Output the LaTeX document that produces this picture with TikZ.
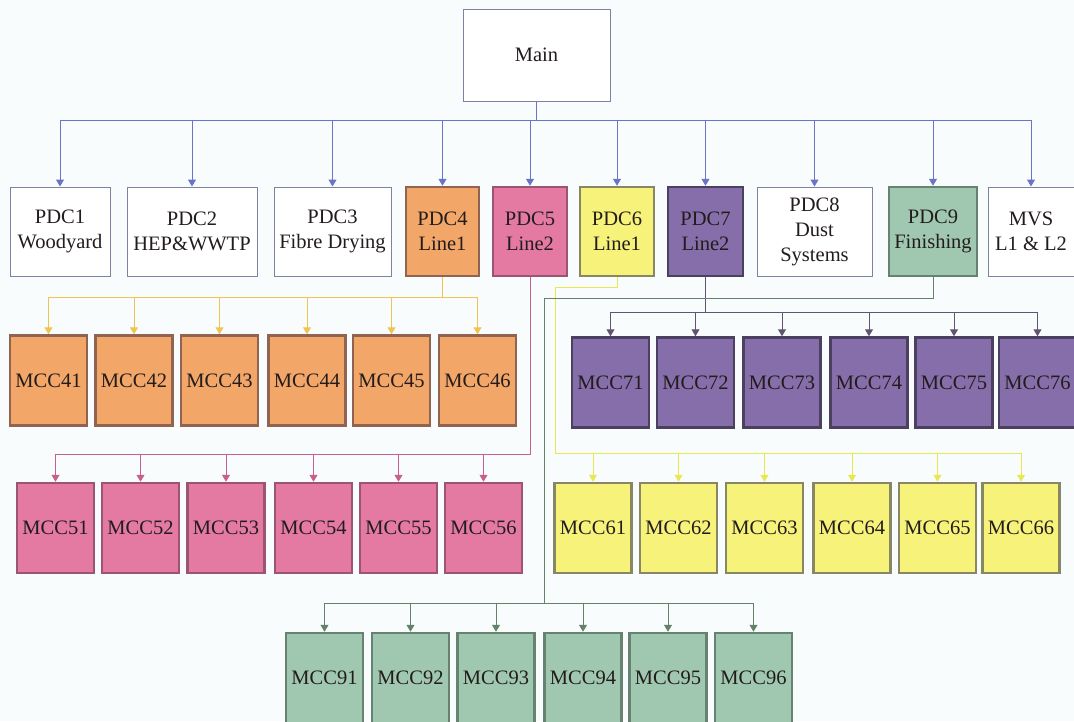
\documentclass[tikz,border=0pt]{standalone}
\usepackage{fontspec}
\setmainfont{Liberation Serif}
\usetikzlibrary{arrows.meta}
\definecolor{bg}{RGB}{248,252,252}
\definecolor{txt}{RGB}{35,28,28}
\definecolor{wbord}{RGB}{125,130,160}
\definecolor{busblue}{RGB}{105,115,200}
\definecolor{orfill}{RGB}{242,166,104}
\definecolor{orbord}{RGB}{145,100,82}
\definecolor{orline}{RGB}{240,196,80}
\definecolor{pkfill}{RGB}{228,122,162}
\definecolor{pkbord}{RGB}{155,85,115}
\definecolor{pkline}{RGB}{200,95,140}
\definecolor{ylfill}{RGB}{246,242,122}
\definecolor{ylbord}{RGB}{135,135,100}
\definecolor{ylline}{RGB}{232,232,80}
\definecolor{pufill}{RGB}{134,110,170}
\definecolor{pubord}{RGB}{75,64,95}
\definecolor{puline}{RGB}{98,84,112}
\definecolor{grfill}{RGB}{160,200,176}
\definecolor{grbord}{RGB}{104,130,114}
\definecolor{grline}{RGB}{100,130,105}

\begin{document}
\begin{tikzpicture}[x=1pt, y=-1pt, >={Triangle[length=7pt,width=8pt]},
    box/.style={draw=wbord, fill=white, line width=1pt, minimum height=89pt,
        inner sep=1pt, align=center, text=txt, font=\fontsize{20.5}{25}\selectfont},
    mcc/.style={box, minimum width=77pt, minimum height=90pt, line width=2.5pt},
    orbox/.style={mcc, fill=orfill, draw=orbord},
    pkbox/.style={mcc, fill=pkfill, draw=pkbord},
    ylbox/.style={mcc, fill=ylfill, draw=ylbord},
    pubox/.style={mcc, fill=pufill, draw=pubord},
    grbox/.style={mcc, fill=grfill, draw=grbord},
    wire/.style={line width=1pt}]
    \useasboundingbox (0,0) rectangle (1074,721);
    \fill[bg] (0,0) rectangle (1074,721);

    % Main and PDC boxes
    \node[box, minimum width=147pt, minimum height=92pt] (main) at (536.5,55) {Main};
    \node[box, minimum width=100pt] (pdc1) at (60,231.5) {PDC1\\Woodyard};
    \node[box, minimum width=130pt] (pdc2) at (192,231.5) {PDC2\\HEP\&WWTP};
    \node[box, minimum width=117pt] (pdc3) at (332.5,231.5) {PDC3\\Fibre Drying};
    \node[box, minimum width=73pt, line width=2.5pt, fill=orfill, draw=orbord] (pdc4) at (442.5,231.5) {PDC4\\Line1};
    \node[box, minimum width=74pt, line width=2.5pt, fill=pkfill, draw=pkbord] (pdc5) at (530,231.5) {PDC5\\Line2};
    \node[box, minimum width=74pt, line width=2.5pt, fill=ylfill, draw=ylbord] (pdc6) at (617,231.5) {PDC6\\Line1};
    \node[box, minimum width=75pt, line width=2.5pt, fill=pufill, draw=pubord] (pdc7) at (705.5,231.5) {PDC7\\Line2};
    \node[box, minimum width=115pt] (pdc8) at (814.5,231.5) {PDC8\\Dust\\Systems};
    \node[box, minimum width=88pt, line width=2.5pt, fill=grfill, draw=grbord] (pdc9) at (933,231.5) {PDC9\\Finishing};
    \node[box, minimum width=86pt] (mvs) at (1031,231.5) {MVS\\L1 \& L2};

    % MCC rows
    \foreach \i/\x in {1/48.5,2/134,3/219.5,4/307,5/391.5,6/477.5}
        \node[orbox] (mcc4\i) at (\x,380.5) {MCC4\i};
    \foreach \i/\x in {1/55.5,2/140.5,3/226,4/313.5,5/398.5,6/483.5}
        \node[pkbox] (mcc5\i) at (\x,528) {MCC5\i};
    \foreach \i/\x in {1/593,2/678.5,3/764.5,4/852,5/937.5,6/1021}
        \node[ylbox] (mcc6\i) at (\x,528) {MCC6\i};
    \foreach \i/\x in {1/610.5,2/695.5,3/782,4/869,5/954,6/1037.5}
        \node[pubox] (mcc7\i) at (\x,382.5) {MCC7\i};
    \foreach \i/\x in {1/324.5,2/410.5,3/496,4/583,5/668,6/753.5}
        \node[grbox] (mcc9\i) at (\x,678) {MCC9\i};

    % Main -> PDC
    \coordinate (mbus) at (536.5,120);
    \draw[wire, busblue] (main.south) -- (mbus);
    \draw[wire, busblue] (pdc1.north |- mbus) -- (mvs.north |- mbus);
    \foreach \p in {pdc1,pdc2,pdc3,pdc4,pdc5,pdc6,pdc7,pdc8,pdc9,mvs}
        \draw[wire, busblue, ->] (\p.north |- mbus) -- (\p.north);

    % PDC4 -> MCC41..46
    \coordinate (obus) at (442.5,297);
    \draw[wire, orline] (pdc4.south) -- (obus);
    \draw[wire, orline] (mcc41.north |- obus) -- (mcc46.north |- obus);
    \foreach \i in {1,...,6}
        \draw[wire, orline, ->] (mcc4\i.north |- obus) -- (mcc4\i.north);

    % PDC5 -> MCC51..56
    \coordinate (pbus) at (530,454);
    \draw[wire, pkline] (pdc5.south) -- (pbus) -- (mcc51.north |- pbus);
    \foreach \i in {1,...,6}
        \draw[wire, pkline, ->] (mcc5\i.north |- pbus) -- (mcc5\i.north);

    % PDC6 -> MCC61..66
    \coordinate (ybend) at (555,287);
    \coordinate (ybus) at (555,453);
    \draw[wire, ylline] (pdc6.south) |- (ybend) -- (ybus) -- (mcc66.north |- ybus);
    \foreach \i in {1,...,6}
        \draw[wire, ylline, ->] (mcc6\i.north |- ybus) -- (mcc6\i.north);

    % PDC7 -> MCC71..76
    \coordinate (ubus) at (705.5,312);
    \draw[wire, puline] (pdc7.south) -- (ubus);
    \draw[wire, puline] (mcc71.north |- ubus) -- (mcc76.north |- ubus);
    \foreach \i in {1,...,6}
        \draw[wire, puline, ->] (mcc7\i.north |- ubus) -- (mcc7\i.north);

    % PDC9 -> MCC91..96
    \coordinate (gbend) at (544,298);
    \coordinate (gbus) at (544,603);
    \draw[wire, grline] (pdc9.south) |- (gbend) -- (gbus);
    \draw[wire, grline] (mcc91.north |- gbus) -- (mcc96.north |- gbus);
    \foreach \i in {1,...,6}
        \draw[wire, grline, ->] (mcc9\i.north |- gbus) -- (mcc9\i.north);
\end{tikzpicture}
\end{document}
